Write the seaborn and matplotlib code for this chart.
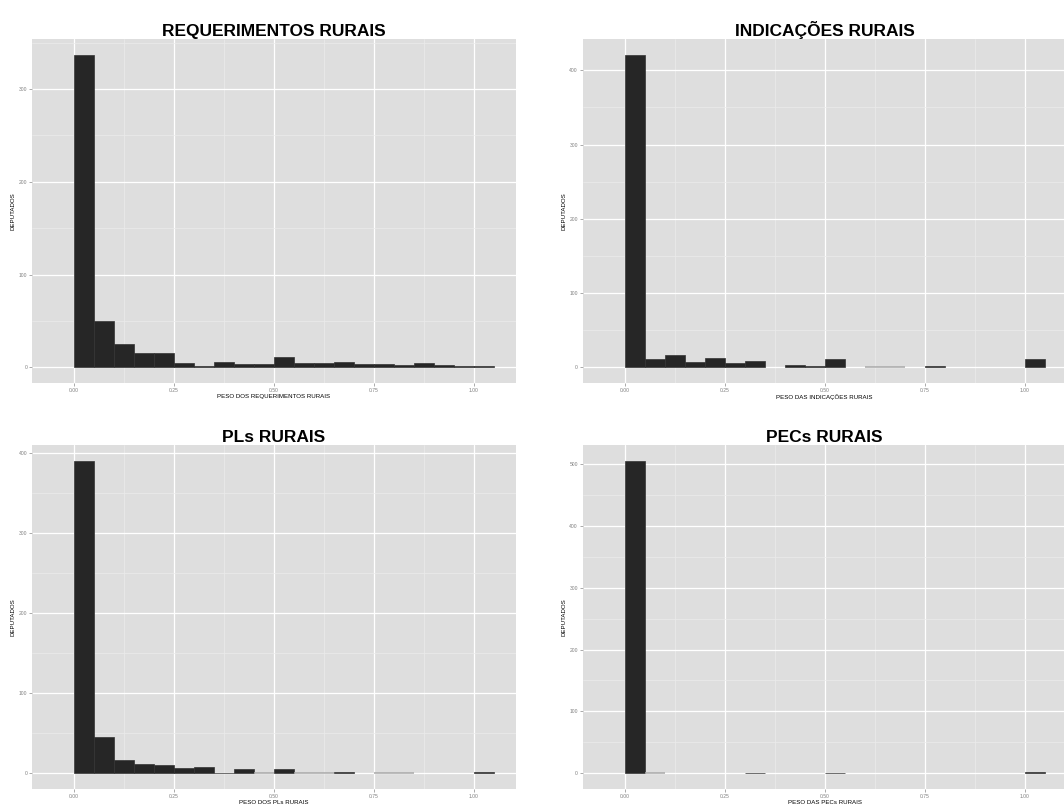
import matplotlib
matplotlib.use("Agg")
import matplotlib.pyplot as plt
from matplotlib.ticker import MultipleLocator, FixedLocator
import pandas as pd
import seaborn as sns

# centros das classes do histograma (largura 0.05)
bin_centers = [0.025, 0.075, 0.125, 0.175, 0.225, 0.275, 0.325, 0.375, 0.425, 0.475,
               0.525, 0.575, 0.625, 0.675, 0.725, 0.775, 0.825, 0.875, 0.925, 0.975, 1.025]

# contagem de deputados por classe; None = classe sem barra, 0 = classe vazia
requerimentos = [337, 50, 25, 16, 16, 5, 1, 6, 4, 4, 11, 5, 5, 6, 4, 4, 3, 5, 3, 1, 2]
indicacoes = [421, 11, 16, 7, 12, 6, 8, None, 3, 2, 11, None, 0, 0, None, 2,
              None, None, None, None, 11]
pls = [391, 45, 17, 12, 10, 7, 8, 1, 5, 0, 5, 0, 0, 2, None, 0, 0, None, None, None, 2]
pecs = [505, 0, None, None, None, None, 1, None, None, None, 1, None, None, None,
        None, None, None, None, None, None, 3]

titles = ["REQUERIMENTOS RURAIS", "INDICAÇÕES RURAIS", "PLs RURAIS", "PECs RURAIS"]
xlabels = ["PESO DOS REQUERIMENTOS RURAIS", "PESO DAS INDICAÇÕES RURAIS",
           "PESO DOS PLs RURAIS", "PESO DAS PECs RURAIS"]
ylabel = "DEPUTADOS"
x_ticks = [0.0, 0.25, 0.5, 0.75, 1.0]
x_tick_labels = ["0.00", "0.25", "0.50", "0.75", "1.00"]
x_minor = [0.125, 0.375, 0.625, 0.875]

series = [requerimentos, indicacoes, pls, pecs]

sns.set_theme(style="white")
plt.rcParams['font.family'] = ['Liberation Sans', 'DejaVu Sans']

W, H = 1064, 805
fig = plt.figure(figsize=(W / 100, H / 100), dpi=100)
fig.patch.set_facecolor("white")

# posicoes dos paineis em pixels: (esquerda, topo)
panel_w, panel_h = 484, 344
origins = [(32, 39), (582.7, 39), (32, 445), (582.7, 445)]

for i, counts in enumerate(series):
    left, top = origins[i]
    ax = fig.add_axes([left / W, 1 - (top + panel_h) / H, panel_w / W, panel_h / H])
    ax.set_facecolor("#dedede")
    for s in ax.spines.values():
        s.set_visible(False)

    df = pd.DataFrame({"peso": bin_centers, "deputados": counts}).dropna()
    sns.barplot(data=df, x="peso", y="deputados", native_scale=True, width=1,
                color="#262626", saturation=1, errorbar=None,
                edgecolor="#333333", linewidth=0.5, ax=ax, zorder=3)
    # classes vazias aparecem como um traco cinza no zero
    for p in ax.patches:
        if p.get_height() == 0:
            p.set_edgecolor("#a8a8a8")
            p.set_linewidth(1.1)

    ymax = max(c for c in counts if c is not None)
    ax.set_xlim(-0.105, 1.105)
    ax.set_ylim(-0.05 * ymax, 1.05 * ymax)

    ax.xaxis.set_major_locator(FixedLocator(x_ticks))
    ax.set_xticklabels(x_tick_labels)
    ax.xaxis.set_minor_locator(FixedLocator(x_minor))
    ax.yaxis.set_major_locator(MultipleLocator(100))
    ax.yaxis.set_minor_locator(MultipleLocator(50))

    ax.grid(which="major", color="white", linewidth=0.9, zorder=0)
    ax.grid(which="minor", color="#ebebeb", linewidth=0.5, zorder=0)
    ax.set_axisbelow(True)

    ax.tick_params(which="major", length=2, width=0.5, color="#888888",
                   labelsize=3.6, labelcolor="#7f7f7f", pad=1.5,
                   bottom=True, left=True)
    ax.tick_params(which="minor", length=0)

    ax.set_title(titles[i], fontsize=12.5, fontweight="bold", pad=2, color="black")
    ax.set_xlabel(xlabels[i], fontsize=4.4, labelpad=0.5 if i >= 2 else 1, color="black")
    ax.set_ylabel(ylabel, fontsize=4.4, labelpad=2, color="black")

fig.savefig("out.png", dpi=100, facecolor="white")
